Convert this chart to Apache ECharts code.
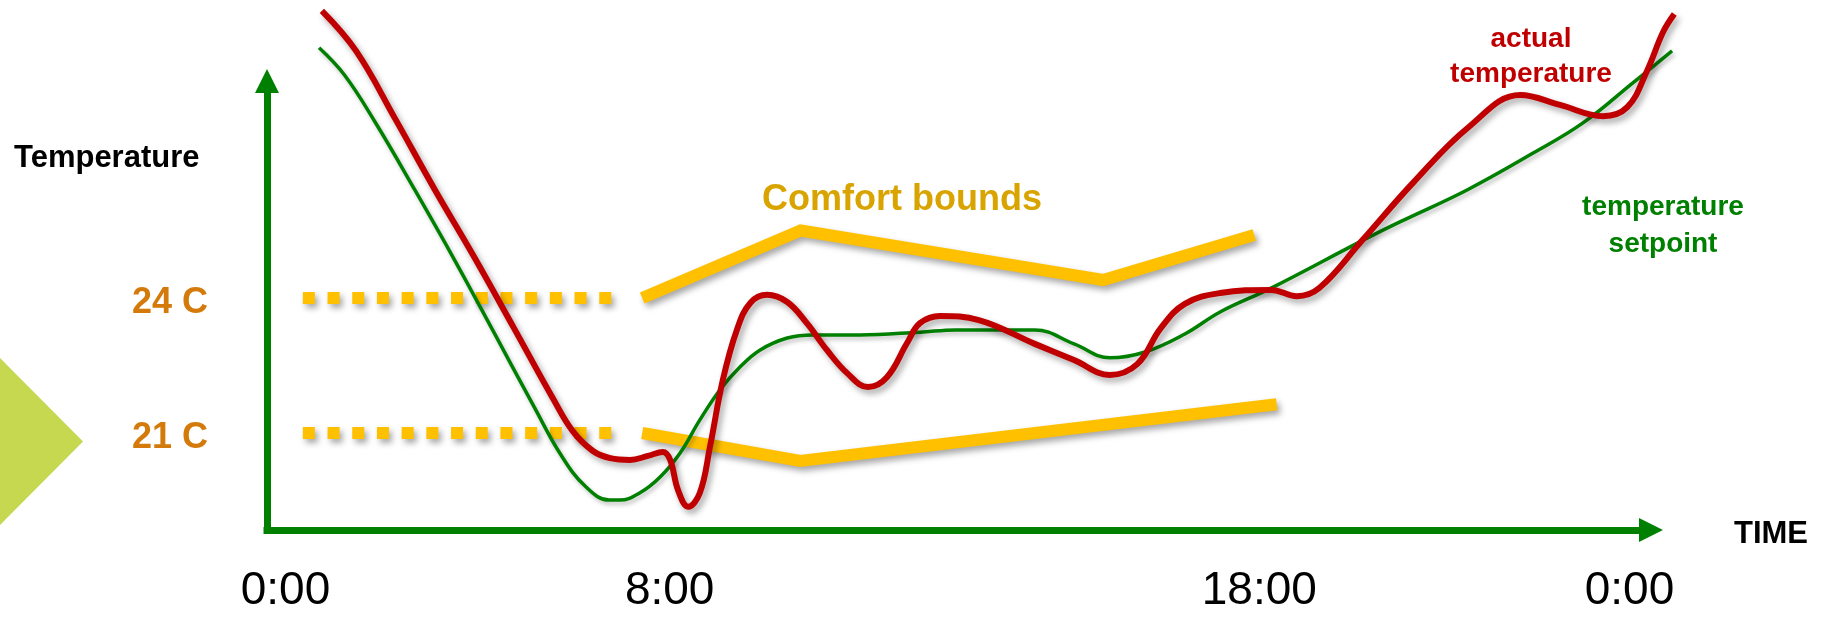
<!DOCTYPE html>
<html>
<head>
<meta charset="utf-8">
<title>Temperature vs comfort bounds</title>
<script src="https://cdn.jsdelivr.net/npm/echarts@6/dist/echarts.min.js"></script>
<style>
  html, body { margin: 0; padding: 0; background: #ffffff; }
  #chart { width: 1836px; height: 621px; }
</style>
</head>
<body>
<div id="chart"></div>
<script>
// Schematic day timeline (hours along the drawn axis) and temperature in °C.
const timeTickPos = [0, 6.86, 17.39, 24];
const timeTickText = ['0:00', '8:00', '18:00', '0:00'];
const tempTicks = [21, 24];

// Fixed comfort levels before the adaptive bounds take over.
const comfortUpperFixed = [[0.31, 24], [6.0, 24]];
const comfortLowerFixed = [[0.31, 21], [6.0, 21]];

// Adaptive comfort bounds.
const comfortUpper = [[6.37, 24.0], [9.2, 25.5], [14.6, 24.4], [17.3, 25.4]];
const comfortLower = [[6.37, 21.0], [9.19, 20.38], [17.7, 21.64]];

// Temperature setpoint.
const setpoint = [
  [0.60, 29.56], [1.05, 28.96], [1.60, 27.91], [2.31, 26.40], [3.03, 24.82],
  [3.72, 23.24], [4.44, 21.58], [4.92, 20.51], [5.35, 19.82], [5.78, 19.51],
  [5.97, 19.51], [6.33, 19.67], [6.69, 20.02], [7.05, 20.56], [7.40, 21.29],
  [7.76, 21.96], [8.12, 22.47], [8.47, 22.84], [8.96, 23.11], [9.42, 23.18],
  [10.26, 23.18], [11.33, 23.24], [11.97, 23.29], [13.38, 23.29], [14.08, 22.98],
  [14.72, 22.67], [15.35, 22.80], [16.06, 23.20], [16.69, 23.69], [17.60, 24.22],
  [19.22, 25.27], [19.90, 25.69], [21.10, 26.40], [22.28, 27.22], [23.17, 27.89],
  [24.06, 28.78], [24.76, 29.49]
];

// Measured (actual) temperature.
const actualTemp = [
  [0.65, 30.38], [1.26, 29.49], [1.96, 27.98], [2.67, 26.40], [3.37, 24.91],
  [4.08, 23.33], [4.78, 21.76], [5.13, 21.04], [5.49, 20.60], [5.80, 20.44],
  [6.15, 20.40], [6.47, 20.49], [6.74, 20.58], [6.87, 20.40], [7.01, 19.73],
  [7.19, 19.36], [7.40, 19.67], [7.58, 20.69], [7.81, 22.18], [8.06, 23.29],
  [8.30, 23.89], [8.60, 24.07], [8.96, 23.91], [9.31, 23.44], [9.67, 22.84],
  [10.03, 22.33], [10.40, 22.02], [10.74, 22.24], [11.10, 23.00], [11.33, 23.44],
  [11.69, 23.60], [12.38, 23.51], [13.38, 22.98], [14.08, 22.62], [14.72, 22.29],
  [15.21, 22.53], [15.63, 23.33], [16.06, 23.87], [16.69, 24.11], [17.60, 24.18],
  [18.06, 24.04], [18.46, 24.22], [19.22, 25.27], [20.15, 26.58], [21.13, 27.80],
  [22.05, 28.51], [22.76, 28.29], [23.53, 28.04], [23.96, 28.24], [24.31, 29.04],
  [24.60, 29.91], [24.80, 30.31]
];

const FONT = '"Liberation Sans", Arial, Helvetica, sans-serif';
const AXIS_GREEN = '#008000';
const YELLOW = '#FFC000';
const shadow = {
  shadowColor: 'rgba(0,0,0,0.35)',
  shadowBlur: 6,
  shadowOffsetX: 3,
  shadowOffsetY: 4
};

// Visible axes end at the arrow heads; the curves run a little past them,
// so they sit on a second, wider (hidden) grid with the same scale.
const X_MIN = -0.33, X_MAX = 24.384, X_MAX_WIDE = 25.259;
const Y_MIN = 18.844, Y_MAX = 28.822, Y_MAX_WIDE = 30.622;

function boundSeries(data, dashed) {
  return {
    type: 'line',
    data: data,
    xAxisIndex: 1,
    yAxisIndex: 1,
    symbol: 'none',
    clip: false,
    silent: true,
    z: 2,
    lineStyle: Object.assign({
      color: YELLOW,
      width: 12,
      type: dashed ? [12, 12.7] : 'solid',
      cap: 'butt',
      join: 'miter'
    }, shadow)
  };
}

function textEl(text, x, y, size, color, align) {
  return {
    type: 'text', silent: true, x: x, y: y,
    style: {
      text: text, fill: color,
      font: 'bold ' + size + 'px ' + FONT,
      textAlign: align, textVerticalAlign: 'middle', align: align, verticalAlign: 'middle'
    }
  };
}

const chart = echarts.init(document.getElementById('chart'), null, { renderer: 'canvas' });

chart.setOption({
  animation: false,
  backgroundColor: '#ffffff',
  grid: [
    { left: 267, right: 185, top: 81, bottom: 91, containLabel: false, outerBoundsMode: 'none' },
    { left: 267, right: 136, top: 0, bottom: 91, containLabel: false, outerBoundsMode: 'none' }
  ],
  xAxis: [
    {
      type: 'value',
      gridIndex: 0,
      min: X_MIN,
      max: X_MAX,
      name: 'TIME',
      nameLocation: 'end',
      nameGap: 83,
      nameTextStyle: {
        color: '#000000', fontFamily: FONT, fontWeight: 'bold', fontSize: 31,
        verticalAlign: 'top', lineHeight: 9
      },
      axisLine: {
        show: true,
        onZero: false,
        symbol: ['none', 'triangle'],
        symbolSize: [24, 24],
        lineStyle: { color: AXIS_GREEN, width: 7, cap: 'square' }
      },
      axisTick: { show: false },
      splitLine: { show: false },
      axisLabel: {
        customValues: timeTickPos,
        margin: 38,
        color: '#000000',
        fontFamily: FONT,
        fontSize: 46,
        formatter: function (v) {
          const i = timeTickPos.indexOf(v);
          return i >= 0 ? timeTickText[i] : '';
        }
      }
    },
    { type: 'value', gridIndex: 1, min: X_MIN, max: X_MAX_WIDE, show: false }
  ],
  yAxis: [
    {
      type: 'value',
      gridIndex: 0,
      min: Y_MIN,
      max: Y_MAX,
      axisLine: {
        show: true,
        onZero: false,
        symbol: ['none', 'triangle'],
        symbolSize: [24, 24],
        lineStyle: { color: AXIS_GREEN, width: 7, cap: 'square' }
      },
      axisTick: { show: false },
      splitLine: { show: false },
      axisLabel: {
        customValues: tempTicks,
        margin: 59,
        color: '#D47A0A',
        fontFamily: FONT,
        fontWeight: 'bold',
        fontSize: 36,
        verticalAlign: 'top',
        lineHeight: 11,
        formatter: function (v) { return v + ' C'; }
      }
    },
    { type: 'value', gridIndex: 1, min: Y_MIN, max: Y_MAX_WIDE, show: false }
  ],
  graphic: [
    {
      type: 'polygon',
      silent: true,
      shape: { points: [[0, 358], [83, 441.5], [0, 525]] },
      style: { fill: '#C5D84F' }
    },
    textEl('Temperature', 14, 158, 31, '#000000', 'left'),
    textEl('Comfort bounds', 902, 200, 36, '#D9A400', 'center'),
    textEl('actual', 1531, 39, 28, '#C00000', 'center'),
    textEl('temperature', 1531, 74, 28, '#C00000', 'center'),
    textEl('temperature', 1663, 207, 28, '#008000', 'center'),
    textEl('setpoint', 1663, 244, 28, '#008000', 'center')
  ],
  series: [
    boundSeries(comfortUpperFixed, true),
    boundSeries(comfortLowerFixed, true),
    boundSeries(comfortUpper, false),
    boundSeries(comfortLower, false),
    {
      name: 'temperature setpoint',
      type: 'line',
      data: setpoint,
      xAxisIndex: 1,
      yAxisIndex: 1,
      smooth: 0.4,
      symbol: 'none',
      clip: false,
      silent: true,
      z: 3,
      lineStyle: {
        color: '#008000', width: 3.5,
        shadowColor: 'rgba(0,0,0,0.25)', shadowBlur: 4, shadowOffsetX: 2, shadowOffsetY: 3
      }
    },
    {
      name: 'actual temperature',
      type: 'line',
      data: actualTemp,
      xAxisIndex: 1,
      yAxisIndex: 1,
      smooth: 0.4,
      symbol: 'none',
      clip: false,
      silent: true,
      z: 4,
      lineStyle: Object.assign({ color: '#C00000', width: 6 }, shadow)
    }
  ]
});
</script>
</body>
</html>
